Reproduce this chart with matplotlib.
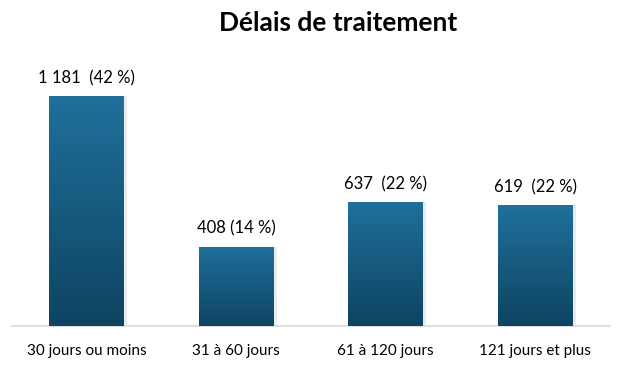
import numpy as np
import matplotlib.pyplot as plt
from matplotlib.colors import LinearSegmentedColormap

categories = ['30 jours ou moins', '31 à 60 jours', '61 à 120 jours', '121 jours et plus']
values = [1181, 408, 637, 619]
labels = ['1 181  (42 %)', '408 (14 %)', '637  (22 %)', '619  (22 %)']

plt.rcParams['font.family'] = ['Lato', 'DejaVu Sans']

fig = plt.figure(figsize=(6.26, 3.78), dpi=100)
ax = fig.add_axes([12/626, 52/378, 598/626, 272.6/378])

x = np.arange(len(categories))
bars = ax.bar(x, values, width=0.5, color='#17618a', zorder=2)

# degrade vertical sur chaque barre
cmap = LinearSegmentedColormap.from_list('bleu', ['#0e4462', '#1f709b'])
grad = np.linspace(0, 1, 256).reshape(-1, 1)
for b in bars:
    x0, w, h = b.get_x(), b.get_width(), b.get_height()
    # ombre legere
    ax.bar(x0 + w/2 + 0.02, h, width=w, color='#d8d8d8', alpha=0.5, zorder=1)
    im = ax.imshow(grad, cmap=cmap, origin='lower', aspect='auto',
                   extent=[x0, x0 + w, 0, h], zorder=3)
    im.set_clip_path(b)

for xi, v, lab in zip(x, values, labels):
    ax.annotate(lab, (xi, v), xytext=(0, 7), textcoords='offset points',
                ha='center', va='bottom', fontsize=12, color='black')

ax.set_xlim(-0.5, 3.5)
ax.set_ylim(0, 1400)
ax.set_xticks(x)
ax.set_xticklabels(categories, fontsize=11)
ax.tick_params(axis='x', length=0, pad=13)
ax.set_yticks([])
for s in ['top', 'right', 'left']:
    ax.spines[s].set_visible(False)
ax.spines['bottom'].set_color('#d9d9d9')
ax.spines['bottom'].set_linewidth(1.2)

fig.text(0.54, 1 - 23/378, 'Délais de traitement', ha='center', va='center',
         fontsize=19, fontweight='bold')

fig.savefig('out.png', dpi=100)
